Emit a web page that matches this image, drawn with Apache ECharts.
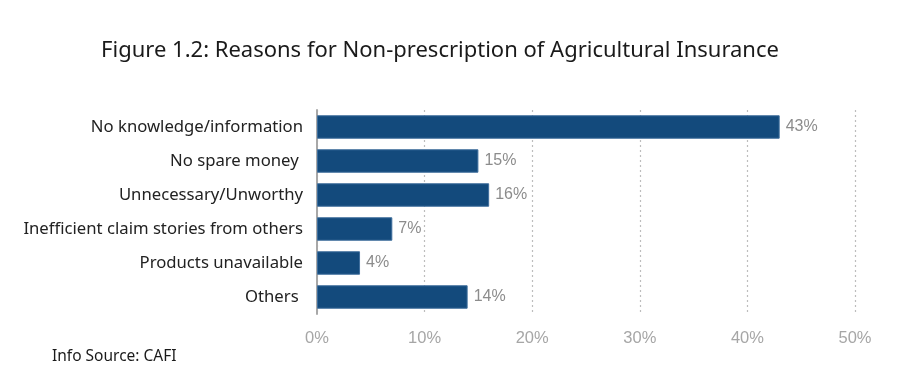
<!DOCTYPE html>
<html><head><meta charset="utf-8">
<script src="https://cdn.jsdelivr.net/npm/echarts@6/dist/echarts.min.js"></script>
<style>html,body{margin:0;padding:0;background:#fff}#c{width:918px;height:388px}</style>
</head><body><div id="c"></div>
<script>
const titleText = "Figure 1.2: Reasons for Non-prescription of Agricultural Insurance";
const sourceText = "Info Source: CAFI";
const categories = ["No knowledge/information", "No spare money ", "Unnecessary/Unworthy", "Inefficient claim stories from others", "Products unavailable", "Others "];
const values = [43, 15, 16, 7, 4, 14];
const xTicks = [0, 10, 20, 30, 40, 50];

const chart = echarts.init(document.getElementById('c'));
chart.setOption({
  animation: false,
  backgroundColor: '#fff',
  title: [
    { text: titleText, left: 435, top: 35, textAlign: 'center',
      textStyle: { fontFamily: 'Noto Sans', fontWeight: 'normal', fontSize: 22, color: '#1a1a1a' } },
    { text: sourceText, left: 47, top: 344,
      textStyle: { fontFamily: 'Noto Sans', fontWeight: 'normal', fontSize: 15.5, color: '#1a1a1a' } }
  ],
  grid: { left: 317, right: 63, top: 110, height: 204, containLabel: false },
  xAxis: {
    type: 'value', min: xTicks[0], max: xTicks[xTicks.length - 1], interval: 10,
    axisLine: { show: false }, axisTick: { show: false },
    axisLabel: { formatter: '{value}%', color: '#a6a6a6', fontSize: 16.5, fontFamily: 'Liberation Sans', margin: 16 },
    splitLine: { show: true, lineStyle: { type: [2, 3], color: '#bdbdbd', width: 1.2 } }
  },
  yAxis: {
    type: 'category', data: categories, inverse: true,
    axisLine: { show: true, lineStyle: { color: '#a8a8a8', width: 2 } },
    axisTick: { show: false },
    axisLabel: { color: '#222', fontSize: 16.7, fontFamily: 'Noto Sans', margin: 14 }
  },
  series: [{
    type: 'bar', data: values, barWidth: '69%',
    itemStyle: { color: '#134a7c', borderColor: '#3f6e9c', borderWidth: 1 },
    label: { show: true, position: 'right', formatter: '{c}%', color: '#8c8c8c', fontSize: 16, fontFamily: 'Liberation Sans', distance: 6 }
  }]
});
</script></body></html>
